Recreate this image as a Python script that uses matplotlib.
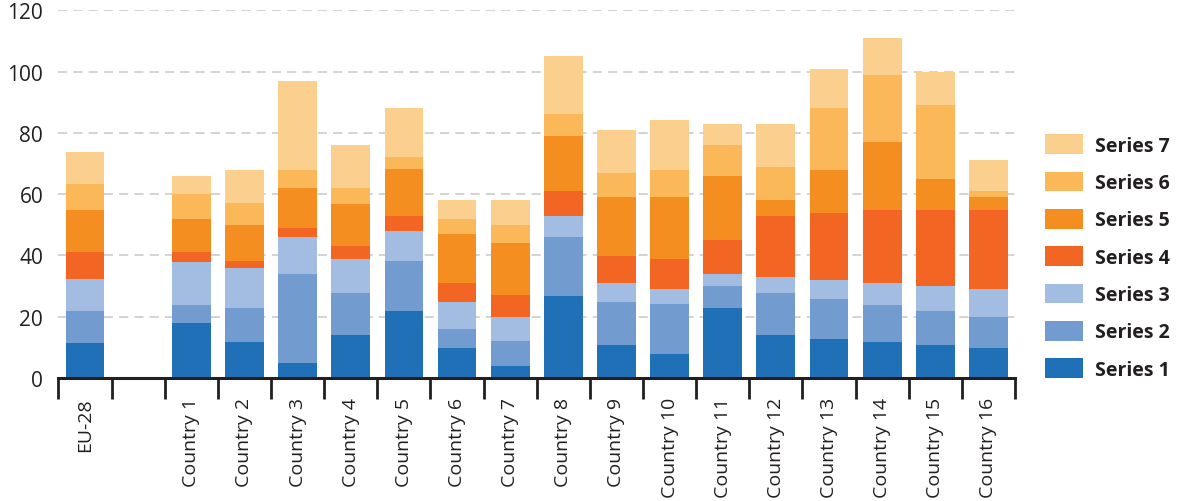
import matplotlib
matplotlib.use("Agg")
import matplotlib.pyplot as plt
import numpy as np
from matplotlib.ticker import FixedLocator

plt.rcParams['font.family'] = ['Open Sans', 'DejaVu Sans']

categories = ["EU-28", "", "Country 1", "Country 2", "Country 3", "Country 4", "Country 5",
              "Country 6", "Country 7", "Country 8", "Country 9", "Country 10", "Country 11",
              "Country 12", "Country 13", "Country 14", "Country 15", "Country 16"]

series_names = ["Series 1", "Series 2", "Series 3", "Series 4", "Series 5", "Series 6", "Series 7"]

series1 = [11.3, 0, 17.9, 11.7, 4.8, 14.0, 21.8, 9.7, 3.8, 26.7, 10.7, 7.7, 22.8, 14.0, 12.6, 11.7, 10.7, 9.7]
series2 = [10.5, 0, 5.9, 11.1, 29.1, 13.7, 16.3, 6.2, 8.2, 19.3, 14.0, 16.4, 7.2, 13.7, 13.1, 12.1, 11.1, 10.1]
series3 = [10.5, 0, 14.0, 13.1, 12.1, 11.1, 9.9, 8.8, 7.8, 6.9, 6.3, 4.9, 3.9, 5.2, 6.2, 7.2, 8.2, 9.2]
series4 = [8.8, 0, 3.3, 2.2, 2.9, 4.3, 4.9, 6.3, 7.2, 8.1, 8.8, 9.8, 11.1, 20.0, 21.9, 23.8, 24.8, 25.8]
series5 = [13.7, 0, 10.8, 11.8, 13.1, 13.7, 15.3, 16.0, 17.0, 18.0, 19.3, 20.3, 20.9, 5.2, 14.1, 22.3, 10.2, 4.3]
series6 = [8.5, 0, 8.2, 7.2, 5.9, 5.2, 4.0, 4.9, 5.9, 7.2, 7.8, 8.8, 10.2, 10.8, 20.3, 21.9, 24.2, 1.9]
series7 = [10.5, 0, 5.8, 10.8, 29.1, 14.1, 16.0, 6.2, 8.2, 19.0, 14.1, 16.4, 6.8, 14.0, 12.7, 12.1, 10.7, 10.2]

colors = ["#2070B8", "#729BD0", "#A3BCE1", "#F26522", "#F58E20", "#FAB858", "#FBCF8E"]
yticks = [0, 20, 40, 60, 80, 100, 120]

all_series = [series1, series2, series3, series4, series5, series6, series7]

fig = plt.figure(figsize=(11.78, 5.02), dpi=100)
ax = fig.add_axes([58.5 / 1178, 1 - 379 / 502, (1015 - 58.5) / 1178, (379 - 11.3) / 502])

x = np.arange(len(categories))
bottom = np.zeros(len(categories))
handles = []
for name, vals, c in zip(series_names, all_series, colors):
    v = np.array(vals, dtype=float)
    h = ax.bar(x, v, width=0.73, bottom=bottom, color=c, label=name, zorder=3, linewidth=0)
    handles.append(h)
    bottom += v

ax.set_xlim(-0.5, len(categories) - 0.5)
ax.set_ylim(0, 120)
ax.set_yticks(yticks)
ax.set_yticklabels([str(t) for t in yticks])
ax.tick_params(axis='y', length=0, pad=11, labelsize=15, labelcolor="#231F20")

ax.set_xticks(x)
ax.set_xticklabels(categories, rotation=90, va='top', ha='center')
ax.tick_params(axis='x', which='major', length=0, pad=13.7, labelsize=14, labelcolor="#231F20")
ax.xaxis.set_minor_locator(FixedLocator(np.arange(-0.5, len(categories), 1.0)))
ax.tick_params(axis='x', which='minor', length=15, width=2, color="#231F20", direction='out')

for s in ["top", "right", "left"]:
    ax.spines[s].set_visible(False)
ax.spines["bottom"].set_linewidth(2.2)
ax.spines["bottom"].set_color("#231F20")
ax.spines["bottom"].set_zorder(5)

for t in yticks[1:]:
    ax.axhline(t, color="#C8C8C8", linewidth=1.1, linestyle=(0, (6, 4)), zorder=1)

fs = 14
leg = fig.legend(handles[::-1], series_names[::-1], loc='center left',
                 bbox_to_anchor=(1045 / 1178, 1 - 258 / 502), frameon=False,
                 borderpad=0, borderaxespad=0, handlelength=38 / 19.44, handleheight=23 / 19.44,
                 handletextpad=0.62, labelspacing=0.82,
                 prop={'size': fs, 'weight': 'bold'})
for t in leg.get_texts():
    t.set_color("#231F20")

fig.savefig("out.png", dpi=100)
